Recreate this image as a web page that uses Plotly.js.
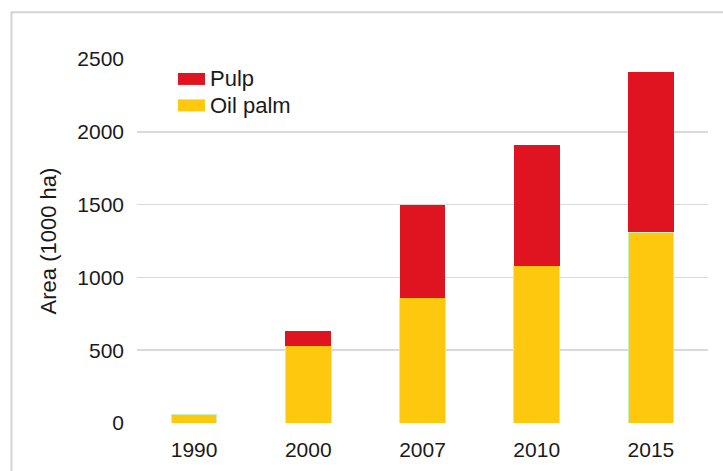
<!DOCTYPE html>
<html>
<head>
<meta charset="utf-8">
<script src="https://cdn.plot.ly/plotly-3.0.1.min.js"></script>
<style>
  html, body { margin: 0; padding: 0; background: #fff; }
  #chart { width: 723px; height: 471px; }
</style>
</head>
<body>
<div id="chart"></div>
<script>
// ---- data ----
const years = ["1990", "2000", "2007", "2010", "2015"];
const oilPalm = [60, 530, 860, 1080, 1310];
const pulp = [0, 105, 640, 830, 1100];
const seriesNames = ["Pulp", "Oil palm"];
const yTicks = [0, 500, 1000, 1500, 2000, 2500];

// ---- layout geometry (pixels) ----
const W = 723, H = 471;
const L = 137, R = 708, T = 58.5, B = 423.5;
const pw = R - L, ph = B - T;
const px = x => (x - L) / pw;
const py = y => (B - y) / ph;

const red = "#e01421";
const yellow = "#fdc80d";
const font = "Liberation Sans, Arial, Helvetica, sans-serif";

const traces = [
  {
    type: "bar", name: seriesNames[1], x: years, y: oilPalm,
    marker: { color: yellow, line: { color: "#c8f2bc", width: 1 } },
    showlegend: false, hoverinfo: "x+y+name"
  },
  {
    type: "bar", name: seriesNames[0], x: years, y: pulp,
    marker: { color: red, line: { width: 0 } },
    showlegend: false, hoverinfo: "x+y+name"
  }
];

// custom legend (wide swatches like the reference)
const legendColors = [red, yellow];
const legendRows = [78.5, 105];
const shapes = [
  // outer frame (top and left edges)
  { type: "path", xref: "paper", yref: "paper",
    path: `M ${px(W + 5)} ${py(11.5)} L ${px(11.5)} ${py(11.5)} L ${px(11.5)} ${py(H + 5)}`,
    line: { color: "#d3d3d3", width: 2 } }
];
const annotations = [];
seriesNames.forEach((name, i) => {
  const cy = legendRows[i];
  shapes.push({
    type: "rect", xref: "paper", yref: "paper",
    x0: px(178), x1: px(205), y0: py(cy - 6), y1: py(cy + 6),
    fillcolor: legendColors[i], line: { width: 0 }
  });
  annotations.push({
    xref: "paper", yref: "paper", x: px(208), y: py(cy),
    xanchor: "left", yanchor: "middle", showarrow: false,
    text: name, font: { family: font, size: 22, color: "#1a1a1a" }
  });
});

const layout = {
  width: W, height: H,
  margin: { l: L, r: W - R, t: T, b: H - B, pad: 0 },
  paper_bgcolor: "#fff", plot_bgcolor: "#fff",
  barmode: "stack", bargap: 0.6,
  showlegend: false,
  font: { family: font, size: 21, color: "#1a1a1a" },
  xaxis: {
    type: "category", categoryorder: "array", categoryarray: years,
    showgrid: false, zeroline: false, showline: false,
    ticks: "", ticklabelstandoff: 12,
    tickfont: { family: font, size: 21, color: "#1a1a1a" },
    fixedrange: true
  },
  yaxis: {
    range: [0, 2500], tickvals: yTicks, ticktext: yTicks.map(String),
    showgrid: true, gridcolor: "#d9d9d9", gridwidth: 1.5,
    zeroline: false, showline: false, ticks: "",
    ticklabelstandoff: 12,
    tickfont: { family: font, size: 21, color: "#1a1a1a" },
    title: { text: "Area (1000 ha)", standoff: 14,
             font: { family: font, size: 22, color: "#1a1a1a" } },
    automargin: false, fixedrange: true
  },
  shapes: shapes,
  annotations: annotations
};

Plotly.newPlot("chart", traces, layout, { displayModeBar: false, staticPlot: true });
</script>
</body>
</html>
